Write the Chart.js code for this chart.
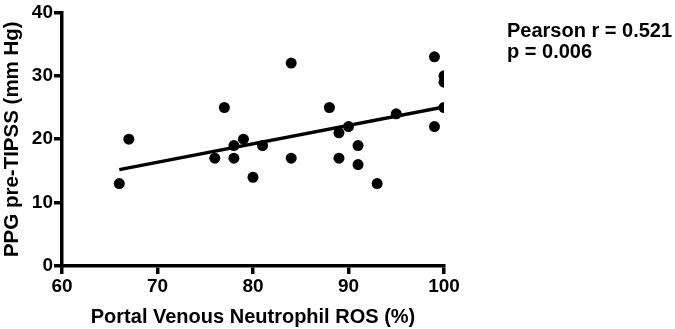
<!DOCTYPE html>
<html>
<head>
<meta charset="utf-8">
<script src="https://cdn.jsdelivr.net/npm/chart.js@4.4.1/dist/chart.umd.min.js"></script>
<style>
  html, body { margin: 0; padding: 0; background: #fff; }
  #wrap { width: 675px; height: 329px; position: relative; }
</style>
</head>
<body>
<div id="wrap"><canvas id="c" width="675" height="329"></canvas></div>
<script>
// Data
const rosPercent = [66, 67, 76, 77, 78, 78, 79, 80, 81, 84, 84, 88, 89, 89, 90, 91, 91, 93, 95, 99, 99, 100, 100, 100];
const ppgValues  = [13, 20, 17, 25, 19, 17, 20, 14, 19, 32, 17, 25, 21, 17, 22, 19, 16, 13, 24, 33, 22, 30, 29, 25];
const fitLineX = [66, 100];
const fitLineY = [15.2, 25.1];
const xTicks = [60, 70, 80, 90, 100];
const yTicks = [0, 10, 20, 30, 40];
const statsText = ["Pearson r = 0.521", "p = 0.006"];

const FONT = "'Liberation Sans', Arial, Helvetica, sans-serif";

const points = rosPercent.map((x, i) => ({ x: x, y: ppgValues[i] }));
const fit = fitLineX.map((x, i) => ({ x: x, y: fitLineY[i] }));

const statsPlugin = {
  id: 'stats',
  afterDraw(chart) {
    const ctx = chart.ctx;
    ctx.save();
    ctx.fillStyle = '#000';
    ctx.font = "bold 20px " + FONT;
    ctx.textAlign = 'left';
    ctx.textBaseline = 'alphabetic';
    ctx.fillText(statsText[0], 507, 36.5);
    ctx.fillText(statsText[1], 507, 57.5);
    ctx.restore();
  }
};

new Chart(document.getElementById('c'), {
  type: 'scatter',
  data: {
    datasets: [
      {
        label: 'data',
        data: points,
        backgroundColor: '#000',
        borderColor: '#000',
        pointRadius: 5.5,
        pointHoverRadius: 5.5,
        borderWidth: 0
      },
      {
        type: 'line',
        label: 'fit',
        data: fit,
        borderColor: '#000',
        borderWidth: 3.5,
        pointRadius: 0,
        fill: false
      }
    ]
  },
  options: {
    responsive: false,
    animation: false,
    events: [],
    layout: { padding: { left: 0, right: 231, top: 7, bottom: 0 } },
    plugins: { legend: { display: false }, tooltip: { enabled: false } },
    scales: {
      x: {
        type: 'linear',
        min: 60, max: 100,
        afterBuildTicks(s) { s.ticks = xTicks.map(v => ({ value: v })); },
        afterFit(s) { s.height = 63; },
        border: { color: '#000', width: 3.5 },
        grid: { drawOnChartArea: false, drawTicks: true, tickLength: 8, color: '#000', lineWidth: 3.5 },
        ticks: { color: '#000', font: { family: FONT, size: 19, weight: 'bold' }, padding: 1, maxRotation: 0 },
        title: { display: true, text: 'Portal Venous Neutrophil ROS (%)', color: '#000',
                 font: { family: FONT, size: 20, weight: 'bold' }, padding: { top: 2, bottom: 0 } }
      },
      y: {
        type: 'linear',
        min: 0, max: 40,
        afterBuildTicks(s) { s.ticks = yTicks.map(v => ({ value: v })); },
        afterFit(s) { s.width = 62; },
        border: { color: '#000', width: 3.5 },
        grid: { drawOnChartArea: false, drawTicks: true, tickLength: 8, color: '#000', lineWidth: 3.5 },
        ticks: { color: '#000', font: { family: FONT, size: 19, weight: 'bold' }, padding: 1 },
        title: { display: true, text: 'PPG pre-TIPSS (mm Hg)', color: '#000',
                 font: { family: FONT, size: 20.5, weight: 'bold' }, padding: { top: 0, bottom: 2 } }
      }
    }
  },
  plugins: [statsPlugin]
});
</script>
</body>
</html>
